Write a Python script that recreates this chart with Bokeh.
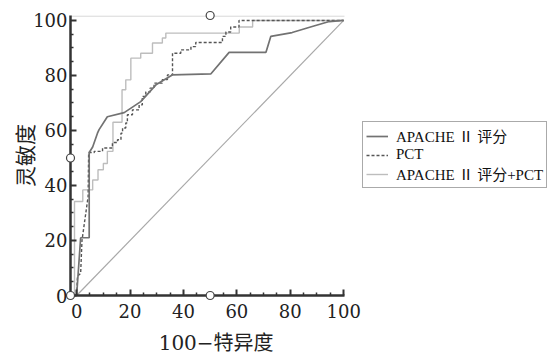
from bokeh.plotting import figure
from bokeh.models import Range1d, Legend, LegendItem, FixedTicker
from bokeh.embed import file_html
from bokeh.resources import INLINE

# ---- data ----
apache_x = [0, 0.5, 1.5, 4.7, 4.7, 6, 7.8, 8.4, 11.5, 17.8, 24, 29.7, 35.8, 50.3,
            57.1, 70.9, 72.7, 80.7, 88.2, 94.6, 100]
apache_y = [0, 7, 21, 21, 52, 54, 59, 60.3, 65, 66.5, 70.5, 76.6, 80.2, 80.6,
            88.4, 88.4, 94.2, 95.6, 97.8, 99.6, 100]

pct_x = [0, 0.3, 1.5, 2, 4.3, 4.5, 6.6, 6.6, 9.7, 9.7, 13.4, 13.4, 15.3, 15.3, 16.6, 16.6,
         17.2, 17.2, 18.4, 18.4, 19, 19, 20.9, 20.9, 23.4, 23.4, 24.6, 24.6, 25.9, 25.9,
         27.5, 27.5, 29, 29, 32.1, 32.1, 34, 34, 35.9, 35.9, 39, 39, 42.8, 42.8, 44.6, 44.6,
         54.6, 54.6, 55.9, 55.9, 57.7, 57.7, 60.8, 60.8, 65.8, 65.8, 100]
pct_y = [0, 7, 8, 20, 36, 52, 52, 52.4, 52.4, 53.6, 53.6, 55.6, 55.6, 56.6, 56.6, 59,
         59, 60.9, 60.9, 62.7, 62.7, 65.7, 65.7, 67.5, 67.5, 69.3, 69.3, 72.4, 72.4, 74,
         74, 75.4, 75.4, 77.2, 77.2, 78.5, 78.5, 80.2, 80.2, 88.1, 88.1, 89.3, 89.3, 90.5,
         90.5, 92, 92, 94.2, 94.2, 95.8, 95.8, 97.6, 97.6, 100, 100, 100, 100]

combo_x = [0, -0.8, -0.8, 2.3, 2.3, 6, 6, 8, 8, 10, 10, 11.5, 11.5, 13.6, 13.6, 17, 17,
           18.4, 18.4, 20.3, 20.3, 24, 24, 28.4, 28.4, 32.1, 32.1, 33.4, 33.4, 60.9, 60.9,
           65.9, 65.9, 100]
combo_y = [0, 0, 34.2, 34.2, 38.4, 38.4, 42, 42, 45.7, 45.7, 48, 48, 52.4, 52.4, 63, 63,
           74.8, 74.8, 78.4, 78.4, 86.3, 86.3, 88.1, 88.1, 91.8, 91.8, 93.6, 93.6, 95.4,
           95.4, 97.6, 97.6, 100, 100]

ref_x = [0, 100]
ref_y = [0, 100]

ticks = [0, 20, 40, 60, 80, 100]
labels = ["APACHE Ⅱ 评分", "PCT", "APACHE Ⅱ 评分+PCT"]

# axis extents of the plotting box
x_lo, x_hi = -2.3, 100.3
y_lo, y_hi = 0, 101.8

# small open-circle markers seen on the axes of the reference
mark_x = [x_lo, 50, x_lo, 50]
mark_y = [y_lo, y_lo, 50, y_hi]

serif = "DejaVu Serif, Noto Sans CJK SC"

# frame is extended to the right so the legend (outside the axes) is not clipped
p = figure(frame_width=482, frame_height=280, output_backend="svg", toolbar_location=None,
           x_range=Range1d(x_lo, 178.2), y_range=Range1d(y_lo, y_hi),
           min_border_left=70, min_border_right=0, min_border_top=15,
           min_border_bottom=0)
p.outline_line_color = None
p.grid.grid_line_color = None
p.background_fill_color = "white"

for ax in (p.xaxis[0], p.yaxis[0]):
    ax.ticker = FixedTicker(ticks=ticks,
                            minor_ticks=[v for v in range(0, 101, 5) if v % 20])
    ax.axis_line_color = "#333333"
    ax.axis_line_width = 2.5
    ax.major_tick_line_color = "#333333"
    ax.major_tick_line_width = 2
    ax.minor_tick_line_color = "#333333"
    ax.minor_tick_line_width = 1.5
    ax.major_tick_in = 6
    ax.major_tick_out = 0
    ax.minor_tick_in = 3
    ax.minor_tick_out = 0
    ax.major_label_text_font = serif
    ax.major_label_text_font_size = "18px"
    ax.major_label_text_color = "#222222"
    ax.axis_label_text_font = serif
    ax.axis_label_text_font_style = "normal"
    ax.axis_label_text_color = "#222222"

p.xaxis.bounds = (x_lo, x_hi)
# trailing no-break spaces shift the centred label back under the axes box
p.xaxis.axis_label = "100−特异度" + "\u00a0" * 30
p.xaxis.axis_label_text_font_size = "20px"
p.xaxis.major_label_standoff = 8
p.xaxis.axis_label_standoff = 10
p.yaxis.axis_label = "灵敏度"
p.yaxis.axis_label_text_font_size = "21px"
p.yaxis.major_label_standoff = 3
p.yaxis.axis_label_standoff = -8

# light top border of the axes box
p.line([x_lo, x_hi], [y_hi - 0.2, y_hi - 0.2], line_color="#cccccc", line_width=1)

p.line(ref_x, ref_y, line_color="#a8a8a8", line_width=1.2)
r_combo = p.line(combo_x, combo_y, line_color="#bdbdbd", line_width=1.4)
r_pct = p.line(pct_x, pct_y, line_color="#555555", line_width=1.4, line_dash="3 2")
r_apache = p.line(apache_x, apache_y, line_color="#727272", line_width=1.7)

p.scatter(mark_x, mark_y, size=8, marker="circle", fill_color="white",
          line_color="#444444", line_width=1.2, level="overlay")

legend = Legend(items=[LegendItem(label=labels[0], renderers=[r_apache]),
                       LegendItem(label=labels[1], renderers=[r_pct]),
                       LegendItem(label=labels[2], renderers=[r_combo])],
                location=(292, 107))
legend.label_text_font = "Liberation Serif, Noto Sans CJK SC"
legend.label_text_font_size = "15px"
legend.label_text_color = "#111111"
legend.label_height = 12
legend.glyph_height = 12
legend.glyph_width = 22
legend.label_standoff = 8
legend.spacing = 0
legend.padding = 3
legend.margin = 0
legend.border_line_color = "#555555"
legend.border_line_width = 1.2
legend.background_fill_color = "white"
legend.background_fill_alpha = 1
p.add_layout(legend, "center")

open("out.html", "w").write(file_html(p, INLINE))
